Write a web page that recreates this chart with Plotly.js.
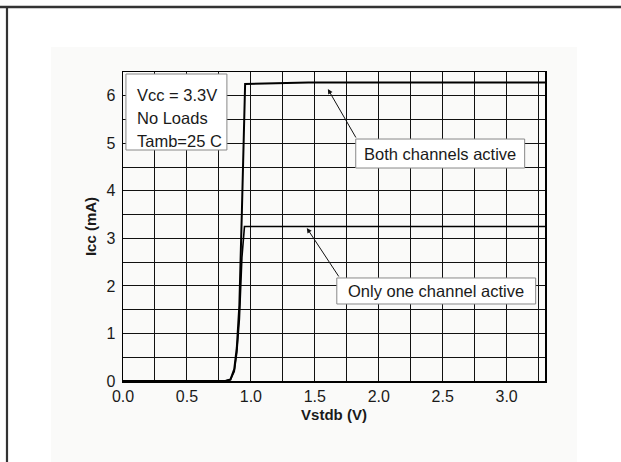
<!DOCTYPE html>
<html>
<head>
<meta charset="utf-8">
<script src="https://cdn.plot.ly/plotly-3.0.1.min.js"></script>
<style>html,body{margin:0;padding:0;background:#fff;}#chart{width:621px;height:462px;}</style>
</head>
<body>
<div id="chart"></div>
<script>
// Data
const bothX = [0, 0.80, 0.84, 0.87, 0.89, 0.91, 0.93, 0.955, 1.45, 3.3];
const bothY = [0, 0, 0.03, 0.25, 0.7, 1.6, 3.6, 6.25, 6.28, 6.28];
const oneX = [0, 0.80, 0.84, 0.87, 0.89, 0.91, 0.93, 0.95, 3.3];
const oneY = [0, 0, 0.03, 0.2, 0.6, 1.3, 2.6, 3.25, 3.25];
const xTickVals = [0, 0.5, 1.0, 1.5, 2.0, 2.5, 3.0];
const xTickText = ["0.0", "0.5", "1.0", "1.5", "2.0", "2.5", "3.0"];
const yTickVals = [0, 1, 2, 3, 4, 5, 6];
const conditions = ["Vcc = 3.3V", "No Loads", "Tamb=25 C"];
const labelBoth = "Both channels active";
const labelOne = "Only one channel active";

const FONT = '"Liberation Sans", Arial, Helvetica, sans-serif';
const INK = '#1a1a1a';

const traces = [
  {x: bothX, y: bothY, mode: 'lines', line: {color: '#000', width: 2}, hoverinfo: 'none', name: labelBoth},
  {x: oneX, y: oneY, mode: 'lines', line: {color: '#000', width: 1.6}, hoverinfo: 'none', name: labelOne}
];

const condY = [6.02, 5.53, 5.05];
const annotations = conditions.map((t, i) => ({
  x: 0.094, y: condY[i], xref: 'x', yref: 'y', text: t, showarrow: false,
  xanchor: 'left', yanchor: 'middle', font: {family: FONT, size: 16.5, color: INK}
}));
annotations.push(
  {x: 2.48, y: 4.775, xref: 'x', yref: 'y', text: labelBoth, showarrow: false,
   font: {family: FONT, size: 16.5, color: INK}},
  {x: 2.449, y: 1.893, xref: 'x', yref: 'y', text: labelOne, showarrow: false,
   font: {family: FONT, size: 16.5, color: INK}},
  {x: 1.602, y: 6.142, xref: 'x', yref: 'y', ax: 1.828, ay: 5.09, axref: 'x', ayref: 'y',
   text: '', showarrow: true, arrowhead: 2, arrowsize: 1, arrowwidth: 1, arrowcolor: '#111'},
  {x: 1.4375, y: 3.218, xref: 'x', yref: 'y', ax: 1.695, ay: 2.167, axref: 'x', ayref: 'y',
   text: '', showarrow: true, arrowhead: 2, arrowsize: 1, arrowwidth: 1, arrowcolor: '#111'}
);

const boxStyle = {fillcolor: '#fff', line: {color: '#888', width: 1}, layer: 'above'};

const layout = {
  width: 621, height: 462,
  margin: {l: 123, r: 76, t: 72, b: 81, pad: 0},
  paper_bgcolor: '#fff',
  plot_bgcolor: '#fafaf9',
  showlegend: false,
  font: {family: FONT, size: 16, color: INK},
  xaxis: {
    range: [0, 3.3], tickvals: xTickVals, ticktext: xTickText,
    showgrid: true, gridcolor: '#111', gridwidth: 1,
    minor: {dtick: 0.25, showgrid: true, gridcolor: '#111', gridwidth: 1},
    showline: true, mirror: true, linecolor: '#000', linewidth: 1.5,
    ticks: '', zeroline: false, tickfont: {size: 16, family: FONT, color: INK},
    title: {text: '<b>Vstdb (V)</b>', font: {size: 15, family: FONT, color: INK}, standoff: 6}
  },
  yaxis: {
    range: [0, 6.5], tickvals: yTickVals,
    showgrid: true, gridcolor: '#111', gridwidth: 1,
    minor: {dtick: 0.5, showgrid: true, gridcolor: '#111', gridwidth: 1},
    showline: true, mirror: true, linecolor: '#000', linewidth: 1.5,
    ticks: '', ticklabelstandoff: 3, zeroline: false, tickfont: {size: 16, family: FONT, color: INK},
    title: {text: '<b>Icc (mA)</b>', font: {size: 15, family: FONT, color: INK}, standoff: 6}
  },
  shapes: [
    {type: 'rect', xref: 'paper', yref: 'paper', x0: -0.1706, x1: 1.0758, y0: -0.262, y1: 1.081,
     fillcolor: '#fafaf9', line: {width: 0}, layer: 'below'},
    {type: 'line', xref: 'paper', yref: 'paper', x0: -0.2915, x1: 1.18, y0: 1.2104, y1: 1.2104,
     line: {color: '#333', width: 2.5}},
    {type: 'line', xref: 'paper', yref: 'paper', x0: -0.2749, x1: -0.2749, y0: -0.262, y1: 1.2104,
     line: {color: '#333', width: 2.2}},
    Object.assign({type: 'rect', xref: 'x', yref: 'y', x0: 0.023, x1: 0.8125, y0: 4.859, y1: 6.458}, boxStyle),
    Object.assign({type: 'rect', xref: 'x', yref: 'y', x0: 1.82, x1: 3.141, y0: 4.48, y1: 5.09}, boxStyle),
    Object.assign({type: 'rect', xref: 'x', yref: 'y', x0: 1.672, x1: 3.227, y0: 1.62, y1: 2.167}, boxStyle)
  ],
  annotations: annotations
};

Plotly.newPlot('chart', traces, layout, {displayModeBar: false, staticPlot: true});
</script>
</body>
</html>
